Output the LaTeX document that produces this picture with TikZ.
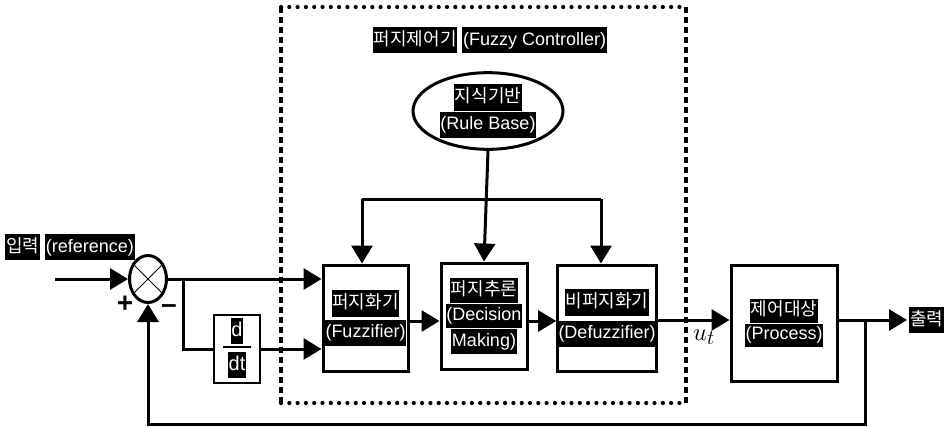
\documentclass[tikz,border=0pt]{standalone}
\usepackage{fontspec}
\setmainfont{Liberation Sans}
\newfontfamily\kr{Noto Sans CJK KR}
\usetikzlibrary{arrows.meta,shapes.geometric}
\newcommand{\hl}[1]{{\setlength\fboxsep{0.8pt}\colorbox{black}{\textcolor{white}{\strut #1}}}}
\tikzset{
  blk/.style={draw,line width=3pt,rectangle,inner sep=0pt,align=center,font=\fontsize{18}{25}\selectfont},
  arr/.style={line width=3pt,-{Triangle[length=18pt,width=21pt]}},
  ln/.style={line width=3pt},
  txt/.style={inner sep=0pt,align=center,font=\fontsize{18}{25}\selectfont},
  hdot/.style={line width=4.2pt,line cap=round,dash pattern=on 0pt off 8.3pt},
  vdash/.style={line width=3.4pt,dash pattern=on 6pt off 4pt}
}
\begin{document}
\begin{tikzpicture}[x=1pt,y=-1pt]
\useasboundingbox (0,0) rectangle (949,426);
% controller frame
\coordinate (f1) at (281,7);
\coordinate (f2) at (686,7);
\coordinate (f3) at (686,403);
\coordinate (f4) at (281,403);
\draw[hdot] (f1) -- (f2);
\draw[hdot] (f4) -- (f3);
\draw[vdash] (f1) -- (f4);
\draw[vdash] (f2) -- (f3);
\node[txt] (title) at (490,40) {\hl{\kr 퍼지제어기} \hl{(Fuzzy Controller)}};
% nodes
\node[blk,ellipse,minimum width=150pt,minimum height=74pt] (rule) at (488,111)
  {\hl{\kr 지식기반}\\\hl{(Rule Base)}};
\node[draw,ellipse,line width=3pt,minimum width=37pt,minimum height=47pt,inner sep=0pt] (sum) at (148,279) {};
\draw[line width=1pt] (sum.45) -- (sum.225);
\draw[line width=1pt] (sum.135) -- (sum.-45);
\node[blk,minimum width=85pt,minimum height=106pt] (fuzz) at (365.5,318)
  {\hl{\kr 퍼지화기}\\[2pt]\hl{(Fuzzifier)}};
\node[blk,minimum width=86pt,minimum height=106pt,font=\fontsize{18}{23}\selectfont] (dec) at (484,316)
  {\hl{\kr 퍼지추론}\\\hl{(Decision}\\\hl{Making)}};
\node[blk,minimum width=92pt,minimum height=106pt] (defuzz) at (607,318)
  {\hl{\kr 비퍼지화기}\\[4pt]\hl{(Defuzzifier)}};
\node[blk,minimum width=106pt,minimum height=116pt,font=\fontsize{18}{22}\selectfont] (proc) at (784,323)
  {\hl{\kr 제어대상}\\\hl{(Process)}};
\node[draw,line width=2pt,minimum width=46pt,minimum height=68pt,inner sep=0pt] (ddt) at (237,349) {};
\node[txt,font=\fontsize{20}{25}\selectfont] (dn) at (237,331) {\hl{d}};
\node[txt,font=\fontsize{20}{25}\selectfont] (dtn) at (237,365) {\hl{dt}};
\draw[line width=1.2pt] (223,347) -- (251,347);
% labels
\node[txt] (inlab) at (70,247) {\hl{\kr 입력} \hl{(reference)}};
\node[txt,font=\fontsize{28}{28}\selectfont\bfseries] (plus) at (125,304) {+};
\node[txt,font=\fontsize{28}{28}\selectfont\bfseries] (minus) at (169,309) {\textendash};
\node[txt,font=\fontsize{28}{28}\selectfont] (ut) at (704,337) {$u_t$};
\node[txt,anchor=west] (outlab) at (909,320) {\hl{\kr 출력}};
% coordinates
\coordinate (inc) at (55,279);
\coordinate (br) at (183,281);
\coordinate (jl) at (362,199);
\coordinate (jr) at (601,199);
\coordinate (outc) at (907,320);
\coordinate (fb) at (865,320);
% connectors
\draw[arr] (inc) -- (sum.west);
\draw[arr] (sum.east) -- (sum.east -| fuzz.west);
\draw[ln] (br) |- (ddt.west);
\draw[arr] (ddt.east) -- (ddt.east -| fuzz.west);
\draw[arr] (fuzz.east |- 0,321) -- (dec.west |- 0,321);
\draw[arr] (dec.east |- 0,321) -- (defuzz.west |- 0,321);
\draw[arr] (defuzz.east |- 0,320) -- (proc.west |- 0,320);
\draw[arr] (proc.east |- outc) -- (outc);
\draw[arr] (fb) -- ++(0,104) -| (sum.south);
\draw[arr] (rule.south) -- (dec.north);
\draw[ln] (jl) -- (jr);
\draw[arr] (jl) -- (jl |- fuzz.north);
\draw[arr] (jr) -- (jr |- defuzz.north);
\end{tikzpicture}
\end{document}
